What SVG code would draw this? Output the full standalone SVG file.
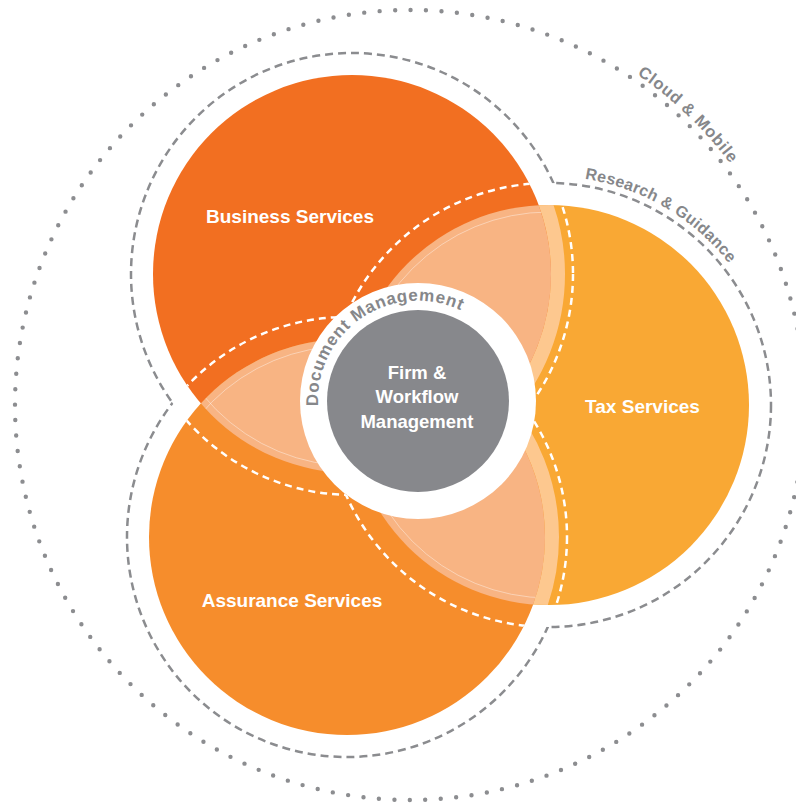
<svg xmlns="http://www.w3.org/2000/svg" width="796" height="805" viewBox="0 0 796 805">
<style>
.lbl{font-family:"Liberation Sans",Arial,sans-serif;font-weight:700;fill:#fff;font-size:19px;text-anchor:middle}
.ctr{font-family:"Liberation Sans",Arial,sans-serif;font-weight:700;fill:#fff;font-size:18.5px;text-anchor:middle}
.arc{font-family:"Liberation Sans",Arial,sans-serif;font-weight:700;fill:#86878A}
.wd{fill:none;stroke:#fff;stroke-width:2.5;stroke-dasharray:7 5}
.gd{fill:none;stroke:#8B8C8F;stroke-width:2.5;stroke-dasharray:8 5}
.faint{fill:none;stroke:#fff;stroke-width:1;stroke-opacity:0.4}
</style>
<defs>
<clipPath id="cB"><circle cx="352" cy="274" r="199"/></clipPath>
<clipPath id="cT"><circle cx="549" cy="405" r="200"/></clipPath>
<clipPath id="cA"><circle cx="347" cy="537" r="198"/></clipPath>
<clipPath id="oB"><path clip-rule="evenodd" d="M-50-50H850V860H-50Z M131 274a221 221 0 1 0 442 0a221 221 0 1 0 -442 0Z"/></clipPath>
<clipPath id="oT"><path clip-rule="evenodd" d="M-50-50H850V860H-50Z M327 405a222 222 0 1 0 444 0a222 222 0 1 0 -444 0Z"/></clipPath>
<clipPath id="oA"><path clip-rule="evenodd" d="M-50-50H850V860H-50Z M127 537a220 220 0 1 0 440 0a220 220 0 1 0 -440 0Z"/></clipPath>
<path id="pDoc" d="M318.1 406.2A100 100 0 0 1 512 366.8"/>
<path id="pRes" d="M584.8 178.8A229 229 0 0 1 764.2 326.7"/>
<path id="pCloud" d="M637.1 74.5A401 401 0 0 1 786.8 267.8"/>
</defs>

<g id="cloud-mobile">
<circle cx="410" cy="405" r="395" fill="none" stroke="#8C8D90" stroke-width="4.4" stroke-linecap="round" stroke-dasharray="0 15.51"/>
<text class="arc" font-size="16.5" letter-spacing="0.7"><textPath href="#pCloud">Cloud &amp; Mobile</textPath></text>
</g>

<g id="connectors">
<g clip-path="url(#oT)"><g clip-path="url(#oA)"><circle class="gd" cx="352" cy="274" r="221"/></g></g>
<g clip-path="url(#oB)"><g clip-path="url(#oA)"><circle class="gd" cx="549" cy="405" r="222"/></g></g>
<g clip-path="url(#oB)"><g clip-path="url(#oT)"><circle class="gd" cx="347" cy="537" r="220"/></g></g>
</g>

<g id="research-guidance">
<text class="arc" font-size="16" letter-spacing="0.3"><textPath href="#pRes">Research &amp; Guidance</textPath></text>
</g>

<g id="tax-services">
<circle cx="549" cy="405" r="200" fill="#F9A834"/>
</g>
<g id="business-services">
<circle cx="352" cy="274" r="199" fill="#F26F21"/>
</g>
<g id="assurance-services">
<circle cx="347" cy="537" r="198" fill="#F68D2C"/>
</g>

<g id="overlaps">
<g clip-path="url(#cT)">
<circle cx="352" cy="274" r="206" fill="none" stroke="#FDC88F" stroke-width="14"/>
<circle cx="347" cy="537" r="205" fill="none" stroke="#FDC88F" stroke-width="14"/>
<circle cx="352" cy="274" r="199" fill="#F8B483"/>
<circle cx="347" cy="537" r="198" fill="#F8B483"/>
</g>
<g clip-path="url(#cB)">
<circle cx="347" cy="537" r="198" fill="#F8B483"/>
<circle class="faint" cx="549" cy="405" r="193"/>
<circle class="faint" cx="347" cy="537" r="191"/>
</g>
<g clip-path="url(#cA)">
<circle class="faint" cx="549" cy="405" r="193"/>
<circle class="faint" cx="352" cy="274" r="192"/>
</g>
</g>

<g id="inner-dashes">
<g clip-path="url(#cB)">
<g clip-path="url(#oA)"><circle class="wd" cx="549" cy="405" r="222"/></g>
<g clip-path="url(#oT)"><circle class="wd" cx="347" cy="537" r="220"/></g>
</g>
<g clip-path="url(#cT)">
<g clip-path="url(#oA)"><circle class="wd" cx="352" cy="274" r="221"/></g>
<g clip-path="url(#oB)"><circle class="wd" cx="347" cy="537" r="220"/></g>
</g>
<g clip-path="url(#cA)">
<g clip-path="url(#oT)"><circle class="wd" cx="352" cy="274" r="221"/></g>
<g clip-path="url(#oB)"><circle class="wd" cx="549" cy="405" r="222"/></g>
</g>
</g>

<g id="document-management">
<circle cx="418" cy="401" r="118" fill="#fff"/>
<text class="arc" font-size="17" letter-spacing="0.8"><textPath href="#pDoc">Document Management</textPath></text>
</g>

<g id="firm-workflow">
<circle cx="418" cy="401" r="91" fill="#87888C"/>
<text class="ctr" x="417" y="378.5">Firm &amp;<tspan x="417" dy="24.5">Workflow</tspan><tspan x="417" dy="24.5">Management</tspan></text>
</g>

<g id="labels">
<text class="lbl" x="290" y="223">Business Services</text>
<text class="lbl" x="642.5" y="413">Tax Services</text>
<text class="lbl" x="292" y="607">Assurance Services</text>
</g>
</svg>
